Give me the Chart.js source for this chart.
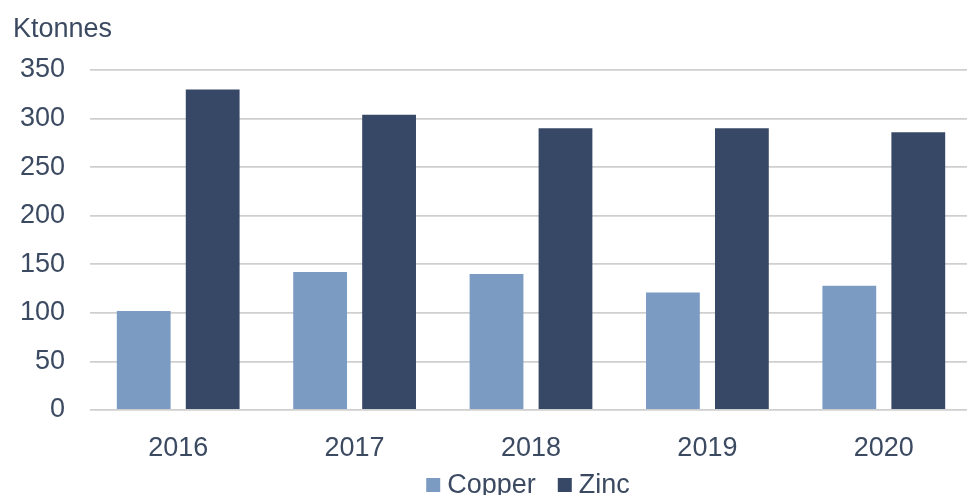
<!DOCTYPE html>
<html>
<head>
<meta charset="utf-8">
<script src="https://cdn.jsdelivr.net/npm/chart.js@4/dist/chart.umd.min.js"></script>
<style>
  html, body { margin: 0; padding: 0; background: #fff; overflow: hidden; }
  #wrap { width: 972px; height: 495px; position: relative; }
</style>
</head>
<body>
<div id="wrap"><canvas id="c" width="972" height="495"></canvas></div>
<script>
const categories = ['2016', '2017', '2018', '2019', '2020'];
const copper = [102, 142, 140, 121, 128];
const zinc = [330, 304, 290, 290, 286];
const seriesNames = ['Copper', 'Zinc'];
const yTicks = [0, 50, 100, 150, 200, 250, 300, 350];
const unitLabel = 'Ktonnes';

const TEXT = '#3b4a61';
const FONT = '27px "Liberation Sans", Arial, sans-serif';

const decor = {
  id: 'decor',
  afterDraw(chart) {
    const ctx = chart.ctx;
    ctx.save();
    ctx.fillStyle = TEXT;
    ctx.font = FONT;
    ctx.textBaseline = 'alphabetic';
    ctx.textAlign = 'left';
    ctx.fillText(unitLabel, 13, 37);
    // legend
    const ds = chart.data.datasets;
    const box = 14, gap = 7, itemGap = 22;
    let total = 0;
    const widths = ds.map(d => ctx.measureText(d.label).width);
    widths.forEach((w, i) => { total += box + gap + w + (i < ds.length - 1 ? itemGap : 0); });
    const ca = chart.chartArea;
    let x = (ca.left + ca.right) / 2 - total / 2 - 3;
    const cy = 485;
    ds.forEach((d, i) => {
      ctx.fillStyle = d.backgroundColor;
      ctx.fillRect(x, cy - box / 2, box, box);
      x += box + gap;
      ctx.fillStyle = TEXT;
      ctx.textBaseline = 'middle';
      ctx.fillText(d.label, x, cy + 1);
      x += widths[i] + itemGap;
    });
    ctx.restore();
  }
};

new Chart(document.getElementById('c'), {
  type: 'bar',
  data: {
    labels: categories,
    datasets: [
      { label: seriesNames[0], data: copper, backgroundColor: '#7b9bc2', categoryPercentage: 0.782, barPercentage: 0.78 },
      { label: seriesNames[1], data: zinc, backgroundColor: '#374866', categoryPercentage: 0.782, barPercentage: 0.78 }
    ]
  },
  options: {
    responsive: false,
    animation: false,
    devicePixelRatio: 1,
    layout: { padding: { top: 70, right: 0, bottom: 0, left: 0 } },
    plugins: { legend: { display: false }, title: { display: false }, tooltip: { enabled: false } },
    scales: {
      x: {
        grid: { display: false },
        border: { display: false },
        ticks: { color: TEXT, font: { family: '"Liberation Sans", Arial, sans-serif', size: 27 }, padding: 14, maxRotation: 0 },
        afterFit(s) { s.height = 85; }
      },
      y: {
        min: 0, max: 350,
        afterBuildTicks(s) { s.ticks = yTicks.map(v => ({ value: v })); },
        grid: { color: '#cfcfcf', lineWidth: 1.8, drawTicks: false },
        border: { display: false },
        ticks: { color: TEXT, font: { family: '"Liberation Sans", Arial, sans-serif', size: 27 }, padding: 25 },
        afterFit(s) { s.width = 90; }
      }
    }
  },
  plugins: [decor]
});
</script>
</body>
</html>
